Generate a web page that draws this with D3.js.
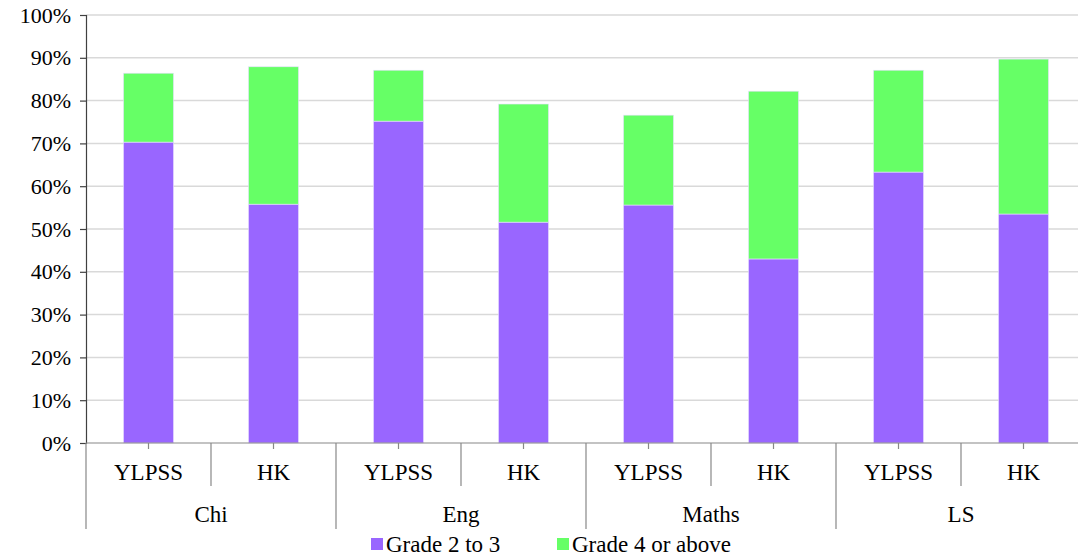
<!DOCTYPE html>
<html>
<head>
<meta charset="utf-8">
<script src="https://cdn.jsdelivr.net/npm/d3@7"></script>
<style>
  body { margin: 0; background: #fff; }
  html body svg#chart text { font-family: "Liberation Serif", "Times New Roman", serif !important; fill: #000; }
</style>
</head>
<body>
<svg id="chart" width="1078" height="557" font-family="Liberation Serif"></svg>
<script>
// data
const subjects = ["Chi", "Eng", "Maths", "LS"];
const groups = ["YLPSS", "HK"];
const grade2to3 = [70.3, 55.8, 75.2, 51.6, 55.6, 43.0, 63.3, 53.5];
const grade4up = [16.1, 32.1, 11.9, 27.6, 21.0, 39.2, 23.8, 36.2];
const seriesNames = ["Grade 2 to 3", "Grade 4 or above"];
const colors = ["#9966ff", "#66ff66"];
const yTicks = [0, 10, 20, 30, 40, 50, 60, 70, 80, 90, 100];

const svg = d3.select("#chart");
const plotLeft = 86, plotRight = 1086, plotTop = 15, plotBottom = 443;

const rows = [];
subjects.forEach((s, i) => {
  groups.forEach((g, j) => {
    const k = i * groups.length + j;
    rows.push({ key: s + "|" + g, subject: s, group: g, a: grade2to3[k], b: grade4up[k] });
  });
});

const xSub = d3.scaleBand().domain(subjects).range([plotLeft, plotRight]);
const xBar = d3.scaleBand().domain(rows.map(d => d.key)).range([plotLeft, plotRight]).paddingInner(0.6).paddingOuter(0.3);
const xSlot = d3.scaleBand().domain(rows.map(d => d.key)).range([plotLeft, plotRight]);
const y = d3.scaleLinear().domain([0, 100]).range([plotBottom, plotTop]);

// gridlines
svg.append("g").selectAll("line").data(yTicks.filter(t => t > 0)).join("line")
  .attr("x1", plotLeft).attr("x2", 1078)
  .attr("y1", d => y(d)).attr("y2", d => y(d))
  .attr("stroke", "#d9d9d9").attr("stroke-width", 1.5);

// stacked bars
const stack = d3.stack().keys(["a", "b"])(rows);
svg.append("g").selectAll("g").data(stack).join("g")
  .attr("fill", (d, i) => colors[i])
  .selectAll("rect").data(d => d).join("rect")
  .attr("x", d => xBar(d.data.key))
  .attr("width", xBar.bandwidth())
  .attr("y", d => y(d[1]))
  .attr("height", d => y(d[0]) - y(d[1]))
  .attr("stroke", "#e8e0ff").attr("stroke-width", 0.6);

// y axis
const yAxis = svg.append("g").attr("transform", `translate(${plotLeft},0)`)
  .call(d3.axisLeft(y).tickValues(yTicks).tickFormat(d => d + "%").tickSize(6).tickPadding(9));
yAxis.attr("font-family", "Liberation Serif").attr("font-size", 22);
yAxis.select(".domain").attr("stroke", "#404040").attr("stroke-width", 1.2);
yAxis.selectAll(".tick line").attr("stroke", "#404040").attr("stroke-width", 1.2);
yAxis.selectAll("text").style("font-size", "22px");

// x axis line
svg.append("line").attr("x1", plotLeft).attr("x2", 1078).attr("y1", plotBottom).attr("y2", plotBottom)
  .attr("stroke", "#888").attr("stroke-width", 1.2);

// small ticks at bar centers
svg.append("g").selectAll("line").data(rows).join("line")
  .attr("x1", d => xSlot(d.key) + xSlot.bandwidth() / 2)
  .attr("x2", d => xSlot(d.key) + xSlot.bandwidth() / 2)
  .attr("y1", plotBottom).attr("y2", plotBottom + 6)
  .attr("stroke", "#888").attr("stroke-width", 1.2);

// separators between groups within subject
svg.append("g").selectAll("line").data(rows.filter(d => d.group === "HK")).join("line")
  .attr("x1", d => xSlot(d.key)).attr("x2", d => xSlot(d.key))
  .attr("y1", plotBottom).attr("y2", 486)
  .attr("stroke", "#888").attr("stroke-width", 1.2);

// separators between subjects
svg.append("g").selectAll("line").data(subjects).join("line")
  .attr("x1", d => xSub(d)).attr("x2", d => xSub(d))
  .attr("y1", plotBottom).attr("y2", 529)
  .attr("stroke", "#888").attr("stroke-width", 1.2);

// group labels
svg.append("g").selectAll("text").data(rows).join("text")
  .attr("x", d => xSlot(d.key) + xSlot.bandwidth() / 2)
  .attr("y", 480)
  .attr("text-anchor", "middle")
  .style("font-size", "23px")
  .text(d => d.group);

// subject labels
svg.append("g").selectAll("text").data(subjects).join("text")
  .attr("x", d => xSub(d) + xSub.bandwidth() / 2)
  .attr("y", 522)
  .attr("text-anchor", "middle")
  .style("font-size", "23px")
  .text(d => d);

// legend
const legendX = [371, 557];
const leg = svg.append("g").selectAll("g").data(seriesNames).join("g")
  .attr("transform", (d, i) => `translate(${legendX[i]},538)`);
leg.append("rect").attr("width", 12).attr("height", 12).attr("fill", (d, i) => colors[i]);
leg.append("text").attr("x", 15).attr("y", 14).style("font-size", "23px").text(d => d);

// serif face on every label
svg.selectAll("text")
  .attr("font-family", "Liberation Serif")
  .style("font-family", "Liberation Serif", "important")
  .style("fill", "#000");
</script>
</body>
</html>
